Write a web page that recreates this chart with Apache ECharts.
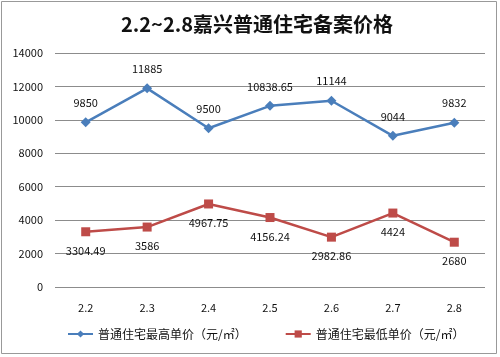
<!DOCTYPE html>
<html><head><meta charset="utf-8">
<script src="https://cdn.jsdelivr.net/npm/echarts@6/dist/echarts.min.js"></script>
<style>html,body{margin:0;padding:0;background:#fff}#c{width:500px;height:357px}</style>
</head><body><div id="c"></div>
<script>
var categories = ['2.2','2.3','2.4','2.5','2.6','2.7','2.8'];
var highPrices = [9850, 11885, 9500, 10838.65, 11144, 9044, 9832];
var lowPrices = [3304.49, 3586, 4967.75, 4156.24, 2982.86, 4424, 2680];
var seriesNames = ['普通住宅最高单价（元/㎡）', '普通住宅最低单价（元/㎡）'];
var titleText = '2.2~2.8嘉兴普通住宅备案价格';

var font = '"Noto Sans CJK SC", "Noto Sans", sans-serif';
var chart = echarts.init(document.getElementById('c'), null, {renderer: 'canvas'});
chart.setOption({
  backgroundColor: '#fff',
  animation: false,
  graphic: [{type: 'rect', shape: {x: 1.5, y: 1.5, width: 495, height: 352}, style: {fill: 'none', stroke: '#999', lineWidth: 1}}],
  title: {text: titleText, left: 116, top: 9,
    textStyle: {fontFamily: font, fontSize: 20, fontWeight: 'bold', color: '#111'}},
  grid: {left: 55, right: 15, top: 53, bottom: 70},
  legend: {bottom: 12, left: 62, itemGap: 38, itemWidth: 25, itemHeight: 9,
    textStyle: {fontFamily: font, fontSize: 12, color: '#111'},
    data: [seriesNames[0], seriesNames[1]]},
  xAxis: {type: 'category', data: categories, boundaryGap: true,
    axisLine: {show: false}, axisTick: {show: false},
    axisLabel: {fontFamily: font, fontSize: 11, color: '#111', margin: 15}},
  yAxis: {type: 'value', min: 0, max: 14000, interval: 2000,
    axisLine: {show: false}, axisTick: {show: false},
    axisLabel: {fontFamily: font, fontSize: 11, color: '#111', margin: 12, formatter: function (v) { return String(v); }},
    splitLine: {lineStyle: {color: '#8c8c8c', width: 1}}},
  series: [
    {name: seriesNames[0], type: 'line', data: highPrices, symbol: 'diamond', symbolSize: 10,
      lineStyle: {color: '#4a7ebb', width: 2.5}, itemStyle: {color: '#4a7ebb'},
      label: {show: true, position: 'top', distance: 9, fontFamily: font, fontSize: 11, color: '#111'}},
    {name: seriesNames[1], type: 'line', data: lowPrices, symbol: 'rect', symbolSize: 9,
      lineStyle: {color: '#be4b48', width: 2.5}, itemStyle: {color: '#be4b48'},
      label: {show: true, position: 'bottom', distance: 9, fontFamily: font, fontSize: 11, color: '#111'}}
  ]
});
</script></body></html>
